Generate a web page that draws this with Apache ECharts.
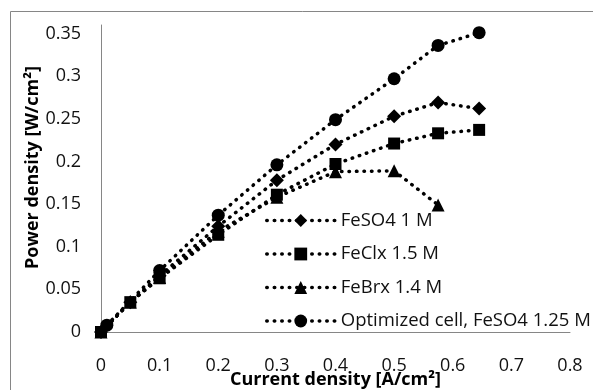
<!DOCTYPE html>
<html>
<head>
<meta charset="utf-8">
<script src="https://cdn.jsdelivr.net/npm/echarts@6/dist/echarts.min.js"></script>
<style>
  html, body { margin: 0; padding: 0; background: #fff; }
  #chart { width: 593px; height: 390px; }
</style>
</head>
<body>
<div id="chart"></div>
<script>
// current density [A/cm2]
const xStd = [0, 0.05, 0.1, 0.2, 0.3, 0.4, 0.5, 0.575, 0.645];
const xBr = [0, 0.05, 0.1, 0.2, 0.3, 0.4, 0.5, 0.575];
const xOpt = [0.01, 0.1, 0.2, 0.3, 0.4, 0.5, 0.575, 0.645];
// power density [W/cm2]
const feso4 = [0, 0.035, 0.066, 0.124, 0.178, 0.220, 0.253, 0.269, 0.262];
const feclx = [0, 0.035, 0.063, 0.114, 0.161, 0.197, 0.221, 0.233, 0.237];
const febrx = [0, 0.035, 0.064, 0.118, 0.158, 0.188, 0.189, 0.149];
const optimized = [0.008, 0.072, 0.137, 0.196, 0.249, 0.297, 0.336, 0.351];

const names = ['FeSO4 1 M', 'FeClx 1.5 M', 'FeBrx 1.4 M', 'Optimized cell, FeSO4 1.25 M'];

const font = '"Open Sans", "Noto Sans", sans-serif';
const axisGrey = '#868686';
const dots = { color: '#000', width: 3.5, type: [0.5, 7], cap: 'round' };

const zip = (xs, ys) => xs.map((x, i) => [x, ys[i]]);

function mkSeries(name, xs, ys, symbol, size) {
    return {
        name: name,
        type: 'line',
        data: zip(xs, ys),
        symbol: symbol,
        symbolSize: size,
        showAllSymbol: true,
        itemStyle: { color: '#000' },
        lineStyle: dots,
        emphasis: { disabled: true },
        z: 3
    };
}

const chart = echarts.init(document.getElementById('chart'));
let option = {
    animation: false,
    backgroundColor: '#fff',
    textStyle: { fontFamily: font },
    graphic: [
        {
            type: 'rect',
            shape: { x: 10.5, y: 11.5, width: 700, height: 500 },
            style: { fill: 'none', stroke: axisGrey, lineWidth: 1 },
            silent: true
        }
    ],
    grid: { left: 101, right: 23, top: 25, bottom: 58, outerBoundsMode: 'none', containLabel: false },
    xAxis: {
        type: 'value',
        min: 0,
        max: 0.8,
        interval: 0.1,
        name: 'Current density [A/cm²]',
        nameLocation: 'middle',
        nameGap: 39,
        nameMoveOverlap: false,
        nameTextStyle: { fontFamily: font, fontSize: 18, fontWeight: 'bold', color: '#000' },
        axisLine: { show: true, lineStyle: { color: axisGrey, width: 1 } },
        axisTick: { show: false },
        splitLine: { show: false },
        axisLabel: { fontFamily: font, fontSize: 18, color: '#111', margin: 25 }
    },
    yAxis: {
        type: 'value',
        min: 0,
        max: 0.36,
        interval: 0.05,
        name: 'Power density [W/cm²]',
        nameLocation: 'middle',
        nameGap: 59,
        nameMoveOverlap: false,
        nameTextStyle: { fontFamily: font, fontSize: 18, fontWeight: 'bold', color: '#000', padding: [0, 0, 0, 22] },
        axisLine: { show: true, lineStyle: { color: axisGrey, width: 1 } },
        axisTick: { show: false },
        splitLine: { show: false },
        axisLabel: { fontFamily: font, fontSize: 18, color: '#111', margin: 20, showMaxLabel: false }
    },
    legend: {
        orient: 'vertical',
        left: 260,
        top: 206,
        itemWidth: 68,
        itemHeight: 16,
        itemGap: 14.5,
        data: names,
        lineStyle: { width: 3.5, type: [0.5, 7], cap: 'round' },
        textStyle: { fontFamily: font, fontSize: 18.5, color: '#111', padding: [0, 0, 0, 1] }
    },
    series: [
        mkSeries(names[0], xStd, feso4, 'diamond', 14),
        mkSeries(names[1], xStd, feclx, 'rect', 12),
        mkSeries(names[2], xBr, febrx, 'triangle', 13),
        mkSeries(names[3], xOpt, optimized, 'circle', 13)
    ]
};
option && chart.setOption(option);
</script>
</body>
</html>
